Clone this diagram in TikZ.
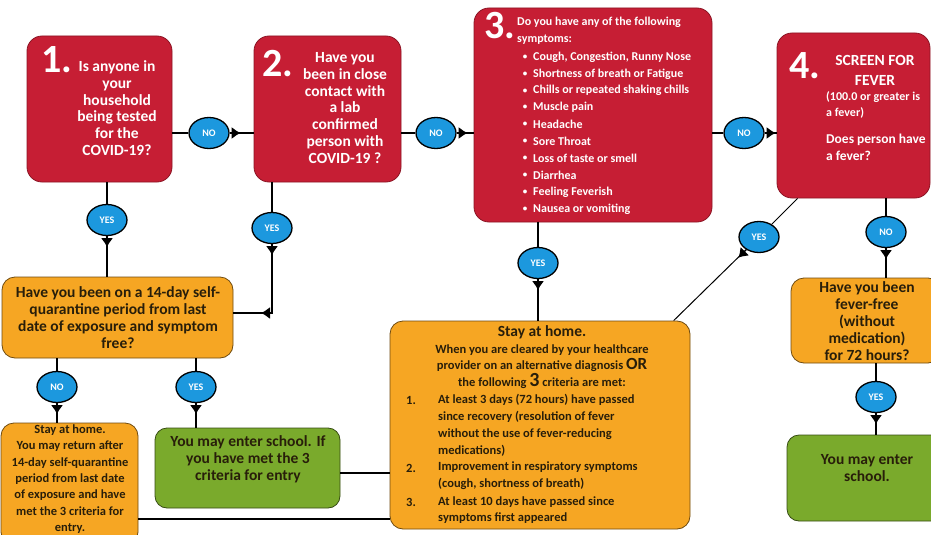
\documentclass[tikz,border=0pt]{standalone}
\usepackage{fontspec}
\setmainfont{Carlito}
\usepackage{xcolor}
\usetikzlibrary{shapes.geometric,arrows.meta}

\definecolor{covred}{RGB}{198,30,52}
\definecolor{covorange}{RGB}{246,166,35}
\definecolor{covgreen}{RGB}{122,170,44}
\definecolor{covblue}{RGB}{28,152,222}
\definecolor{covtext}{RGB}{40,30,10}

\tikzset{
  redbox/.style={draw=covred!70!black, fill=covred, rounded corners=15pt, line width=0.8pt, inner sep=0pt},
  orangebox/.style={draw=covorange!45!black, fill=covorange, rounded corners=13pt, line width=0.8pt, inner sep=0pt},
  greenbox/.style={draw=covgreen!45!black, fill=covgreen, rounded corners=12pt, line width=0.8pt, inner sep=0pt},
  answer/.style={ellipse, draw=black, line width=1.3pt, fill=covblue, text=white, inner sep=0pt,
    minimum width=40pt, minimum height=31pt, font=\bfseries\fontsize{10}{10}\selectfont},
  link/.style={line width=1.3pt},
  tip/.style={line width=1.3pt, -{Latex[length=9pt,width=12pt]}},
  bignum/.style={text=white, inner sep=0pt, anchor=base west, font=\bfseries\fontsize{40}{40}\selectfont},
  redtext/.style={text=white, inner sep=0pt, align=center, font=\bfseries\fontsize{15.5}{16.7}\selectfont},
  symtext/.style={text=white, inner sep=0pt, font=\bfseries\fontsize{12}{16.9}\selectfont},
  darktext/.style={text=covtext, inner sep=0pt, align=center, font=\bfseries\fontsize{15.5}{17}\selectfont},
  darkbold/.style={text=covtext, inner sep=0pt, align=center, font=\bfseries\fontsize{12.5}{16.8}\selectfont}
}

\begin{document}
\begin{tikzpicture}[x=1pt, y=-1pt]
  \useasboundingbox (0,0) rectangle (931,535);

  \node[redbox, minimum width=145pt, minimum height=146pt] (q1) at (99.5,109) {};
  \node[redbox, minimum width=147pt, minimum height=146pt] (q2) at (327.5,109) {};
  \node[redbox, minimum width=238pt, minimum height=214pt] (q3) at (593,115) {};
  \node[redbox, minimum width=153pt, minimum height=165pt] (q4) at (853.5,115.5) {};
  \node[orangebox, minimum width=231pt, minimum height=81pt] (quar) at (117.5,317.5) {};
  \node[orangebox, minimum width=137pt, minimum height=122pt] (home1) at (69.5,484) {};
  \node[greenbox, minimum width=185pt, minimum height=80pt] (enter1) at (247.5,468) {};
  \node[orangebox, minimum width=300pt, minimum height=208pt] (home2) at (540,425) {};
  \node[orangebox, minimum width=150pt, minimum height=85pt] (fever) at (866,320.5) {};
  \node[greenbox, minimum width=158pt, minimum height=86pt] (enter2) at (866,478) {};

  \node[bignum] (q1num) at (41,72) {1.};
  \node[redtext] (q1text) at (117,108) {Is anyone in\\your\\household\\being tested\\for the\\COVID-19?};
  \node[bignum] (q2num) at (262,77) {2.};
  \node[redtext] (q2text) at (345,108) {Have you\\been in close\\contact with\\a lab\\confirmed\\person with\\COVID-19 ?};
  \node[bignum] (q3num) at (484,39) {3.};
  \node[symtext, anchor=west] (q3head) at (517,22) {Do you have any of the following};
  \node[symtext, anchor=west] (q3sub) at (517,40) {symptoms:};
  \foreach \s [count=\i from 0] in {{Cough, Congestion, Runny Nose}, {Shortness of breath or Fatigue},
      {Chills or repeated shaking chills}, {Muscle pain}, {Headache}, {Sore Throat},
      {Loss of taste or smell}, {Diarrhea}, {Feeling Feverish}, {Nausea or vomiting}} {
    \node[symtext, font=\bfseries\fontsize{9}{9}\selectfont] (bul\i) at (525,57+16.9*\i) {\textbullet};
    \node[symtext, anchor=west] (sym\i) at (533,57+16.9*\i) {\s};
  }
  \node[bignum] (q4num) at (789,78) {4.};
  \node[redtext, font=\bfseries\fontsize{15.5}{20}\selectfont] (q4head) at (875,70) {SCREEN FOR\\FEVER};
  \node[redtext, align=left, anchor=west, font=\bfseries\fontsize{12}{16.5}\selectfont] (q4note) at (826,105) {(100.0 or greater is\\a fever)};
  \node[redtext, align=left, anchor=west, font=\bfseries\fontsize{13.5}{17}\selectfont] (q4ask) at (826,147.5) {Does person have\\a fever?};

  \node[darktext] (quartext) at (118,317.5) {Have you been on a 14-day self-\\quarantine period from last\\date of exposure and symptom\\free?};
  \node[darkbold, font=\bfseries\fontsize{12.5}{16.4}\selectfont] (home1text) at (70,479) {Stay at home.\\You may return after\\14-day self-quarantine\\period from last date\\of exposure and have\\met the 3 criteria for\\entry.};
  \node[darktext] (enter1text) at (248,459) {You may enter school. If\\you have met the 3\\criteria for entry};
  \node[darktext] (home2head) at (542,332) {Stay at home.};
  \node[darkbold] (home2text) at (542,366.5) {When you are cleared by your healthcare\\provider on an alternative diagnosis {\fontsize{17}{17}\selectfont OR}\\the following {\fontsize{20}{17}\selectfont 3} criteria are met:};
  \foreach \n/\y in {1/400,2/468,3/502}
    \node[darkbold, anchor=west] (crit\n) at (406,\y) {\n.};
  \node[darkbold, align=left, anchor=west] (crit1text) at (438,425.5) {At least 3 days (72 hours) have passed\\since recovery (resolution of fever\\without the use of fever-reducing\\medications)};
  \node[darkbold, align=left, anchor=west] (crit2text) at (438,476) {Improvement in respiratory symptoms\\(cough, shortness of breath)};
  \node[darkbold, align=left, anchor=west] (crit3text) at (438,510) {At least 10 days have passed since\\symptoms first appeared};
  \node[darktext] (fevertext) at (867,321) {Have you been\\fever-free\\(without\\medication)\\for 72 hours?};
  \node[darktext] (enter2text) at (867,468.5) {You may enter\\school.};

  \node[answer] (no12) at (209,133) {NO};
  \node[answer] (yes1) at (107,220) {YES};
  \node[answer] (no23) at (436,133) {NO};
  \node[answer] (yes2) at (272,228) {YES};
  \node[answer] (no34) at (744,133) {NO};
  \node[answer] (yes3) at (538,263) {YES};
  \node[answer] (yes4) at (759,237) {YES};
  \node[answer] (no4) at (886,232) {NO};
  \node[answer] (yesf) at (876,397) {YES};
  \node[answer] (noq) at (57,387) {NO};
  \node[answer] (yesq) at (196,387) {YES};

  \coordinate (turn2) at (272,313);
  \draw[link] (q1.east |- no12) -- (no12) -- (q2.west |- no12);
  \draw[link] (q2.east |- no23) -- (no23) -- (q3.west |- no23);
  \draw[link] (q3.east |- no34) -- (no34) -- (q4.west |- no34);
  \draw[link] (yes1 |- q1.south) -- (yes1) -- (yes1 |- quar.north);
  \draw[link] (yes2 |- q2.south) -- (yes2) -- (turn2) -- (turn2 -| quar.east);
  \draw[link] (yes3 |- q3.south) -- (yes3) -- (yes3 |- home2.north);
  \draw[link, line width=1pt] (q4.236) -- (yes4) -- (home2.38);
  \draw[link] (no4 |- q4.south) -- (no4) -- (no4 |- fever.north);
  \draw[link] (yesf |- fever.south) -- (yesf) -- (yesf |- enter2.north);
  \draw[link] (noq |- quar.south) -- (noq) -- (noq |- home1.north);
  \draw[link] (yesq |- quar.south) -- (yesq) -- (yesq |- enter1.north);
  \draw[link] (enter1.-3) -- (enter1.-3 -| home2.west);
  \draw[link] (home1.-27) -- (home1.-27 -| home2.west);

  \draw[tip] (no12.east) -- ++(11,0);
  \draw[tip] (no23.east) -- ++(11,0);
  \draw[tip] (no34.east) -- ++(11,0);
  \draw[tip] (yes1.south) -- ++(0,11);
  \draw[tip] (yes2.south) -- ++(0,11);
  \draw[tip] (turn2) -- ++(-11,0);
  \draw[tip] (yes3.south) -- ++(0,11);
  \draw[tip] (yes4.225) -- ++(-8,8);
  \draw[tip] (no4.south) -- ++(0,11);
  \draw[tip] (yesf.south) -- ++(0,11);
  \draw[tip] (noq.south) -- ++(0,11);
  \draw[tip] (yesq.south) -- ++(0,11);
\end{tikzpicture}
\end{document}
